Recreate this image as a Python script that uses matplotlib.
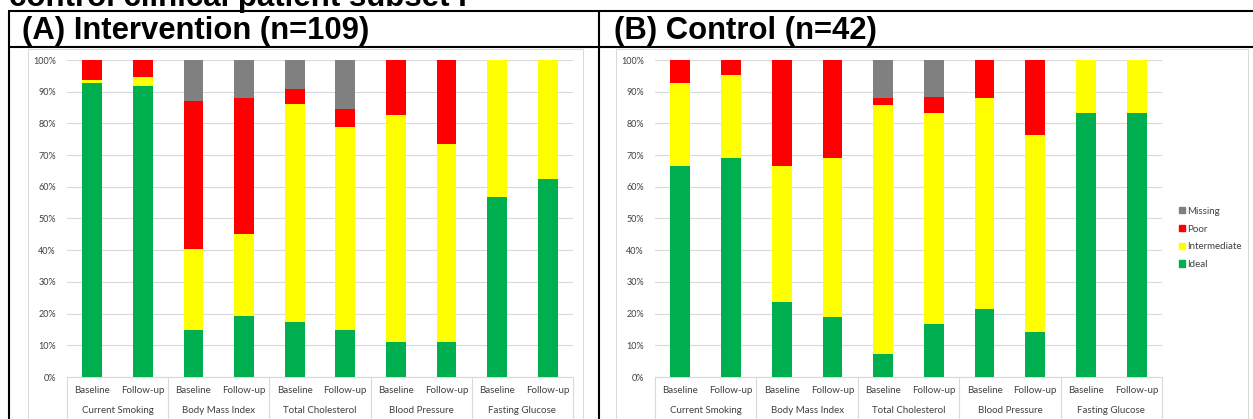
import numpy as np
import matplotlib
matplotlib.use("Agg")
import matplotlib.pyplot as plt
from matplotlib.lines import Line2D
from matplotlib.patches import Patch

plt.rcParams['font.family'] = ['Lato', 'DejaVu Sans']

groups = ["Current Smoking", "Body Mass Index", "Total Cholesterol", "Blood Pressure", "Fasting Glucose"]
timepoints = ["Baseline", "Follow-up"]
ytick_labels = ["0%", "10%", "20%", "30%", "40%", "50%", "60%", "70%", "80%", "90%", "100%"]

# intervention group (n=109), % of patients per bar
int_ideal = [92.7, 91.7, 14.7, 19.3, 17.4, 14.7, 11.0, 11.0, 56.9, 62.4]
int_intermediate = [0.9, 2.8, 25.7, 25.7, 68.8, 64.2, 71.6, 62.4, 43.1, 37.6]
int_poor = [6.4, 5.5, 46.8, 43.1, 4.6, 5.5, 17.4, 26.6, 0, 0]
int_missing = [0, 0, 12.8, 11.9, 9.2, 15.6, 0, 0, 0, 0]

# control group (n=42)
ctl_ideal = [66.7, 69.0, 23.8, 19.0, 7.1, 16.7, 21.4, 14.3, 83.3, 83.3]
ctl_intermediate = [26.2, 26.2, 42.9, 50.0, 78.6, 66.7, 66.7, 61.9, 16.7, 16.7]
ctl_poor = [7.1, 4.8, 33.3, 31.0, 2.4, 4.8, 11.9, 23.8, 0, 0]
ctl_missing = [0, 0, 0, 0, 11.9, 11.9, 0, 0, 0, 0]

levels = ["Ideal", "Intermediate", "Poor", "Missing"]
colors = ["#00B050", "#FFFF00", "#FF0000", "#808080"]
txt_color = "#404040"

W, H = 1253, 419
fig = plt.figure(figsize=(W / 100, H / 100), dpi=100)


def box(x0, x1, y0, y1):
    # pixel box -> figure fraction rect
    return [x0 / W, 1 - y1 / H, (x1 - x0) / W, (y1 - y0) / H]


def fline(xs, ys, color="black", lw=1.5):
    fig.add_artist(Line2D([x / W for x in xs], [1 - y / H for y in ys],
                          color=color, lw=lw, solid_capstyle="butt"))


def stacked(ax, series):
    x = np.arange(len(series[0]))
    bottom = np.zeros(len(x))
    for vals, c in zip(series, colors):
        ax.bar(x, vals, bottom=bottom, width=0.39, color=c, linewidth=0, zorder=3)
        bottom += np.array(vals)

    ax.set_xlim(-0.5, len(x) - 0.5)
    ax.set_ylim(0, 100)
    ax.set_yticks(np.arange(0, 101, 10))
    ax.set_yticklabels(ytick_labels)
    ax.tick_params(axis="y", length=0, pad=8, labelsize=6.5, labelcolor=txt_color)
    ax.set_xticks([])
    ax.grid(axis="y", color="#d9d9d9", lw=0.8, zorder=0)
    for s in ["left", "right", "top"]:
        ax.spines[s].set_visible(False)
    ax.spines["bottom"].set_color("#d9d9d9")
    ax.spines["bottom"].set_linewidth(0.8)

    # two-level category axis
    tr = ax.get_xaxis_transform()
    for i in range(len(x)):
        ax.text(i, -0.044, timepoints[i % 2], transform=tr, ha="center", va="center",
                fontsize=7, color=txt_color)
    for g, name in enumerate(groups):
        ax.text(2 * g + 0.5, -0.107, name, transform=tr, ha="center", va="center",
                fontsize=7, color=txt_color)
    for b in range(len(groups) + 1):
        ax.add_line(Line2D([2 * b - 0.5, 2 * b - 0.5], [0, -0.14], transform=tr,
                           color="#d9d9d9", lw=0.8, clip_on=False))


ax1 = fig.add_axes(box(67, 573, 60, 377))
stacked(ax1, [int_ideal, int_intermediate, int_poor, int_missing])

ax2 = fig.add_axes(box(655, 1162, 60, 377))
stacked(ax2, [ctl_ideal, ctl_intermediate, ctl_poor, ctl_missing])

handles = [Patch(color=c, label=l) for c, l in zip(colors, levels)][::-1]
fig.legend(handles=handles, loc="upper left", bbox_to_anchor=(1170 / W, 1 - 198 / H),
           frameon=False, fontsize=7, handlelength=0.6, handleheight=0.6,
           handletextpad=0.3, labelspacing=0.9, labelcolor=txt_color)

# chart area frames
for x0, x1 in [(28, 583), (616, 1248)]:
    fline([x0, x0, x1, x1], [420, 49, 49, 420], color="#d9d9d9", lw=0.7)

# table lines
fline([8, W], [11.5, 11.5])
fline([8, W], [47, 47])
fline([8.5, 8.5], [11, H])
fline([599, 599], [11, H])

fig.text(9 / W, 1 - 6 / H, "control clinical patient subset I", family="Liberation Sans",
         weight="bold", fontsize=22.5, va="baseline", ha="left")
fig.text(22 / W, 1 - 39 / H, "(A) Intervention (n=109)", family="Liberation Sans",
         weight="bold", fontsize=22.3, va="baseline", ha="left")
fig.text(614 / W, 1 - 39 / H, "(B) Control (n=42)", family="Liberation Sans",
         weight="bold", fontsize=22.3, va="baseline", ha="left")

fig.savefig("out.png", dpi=100)
